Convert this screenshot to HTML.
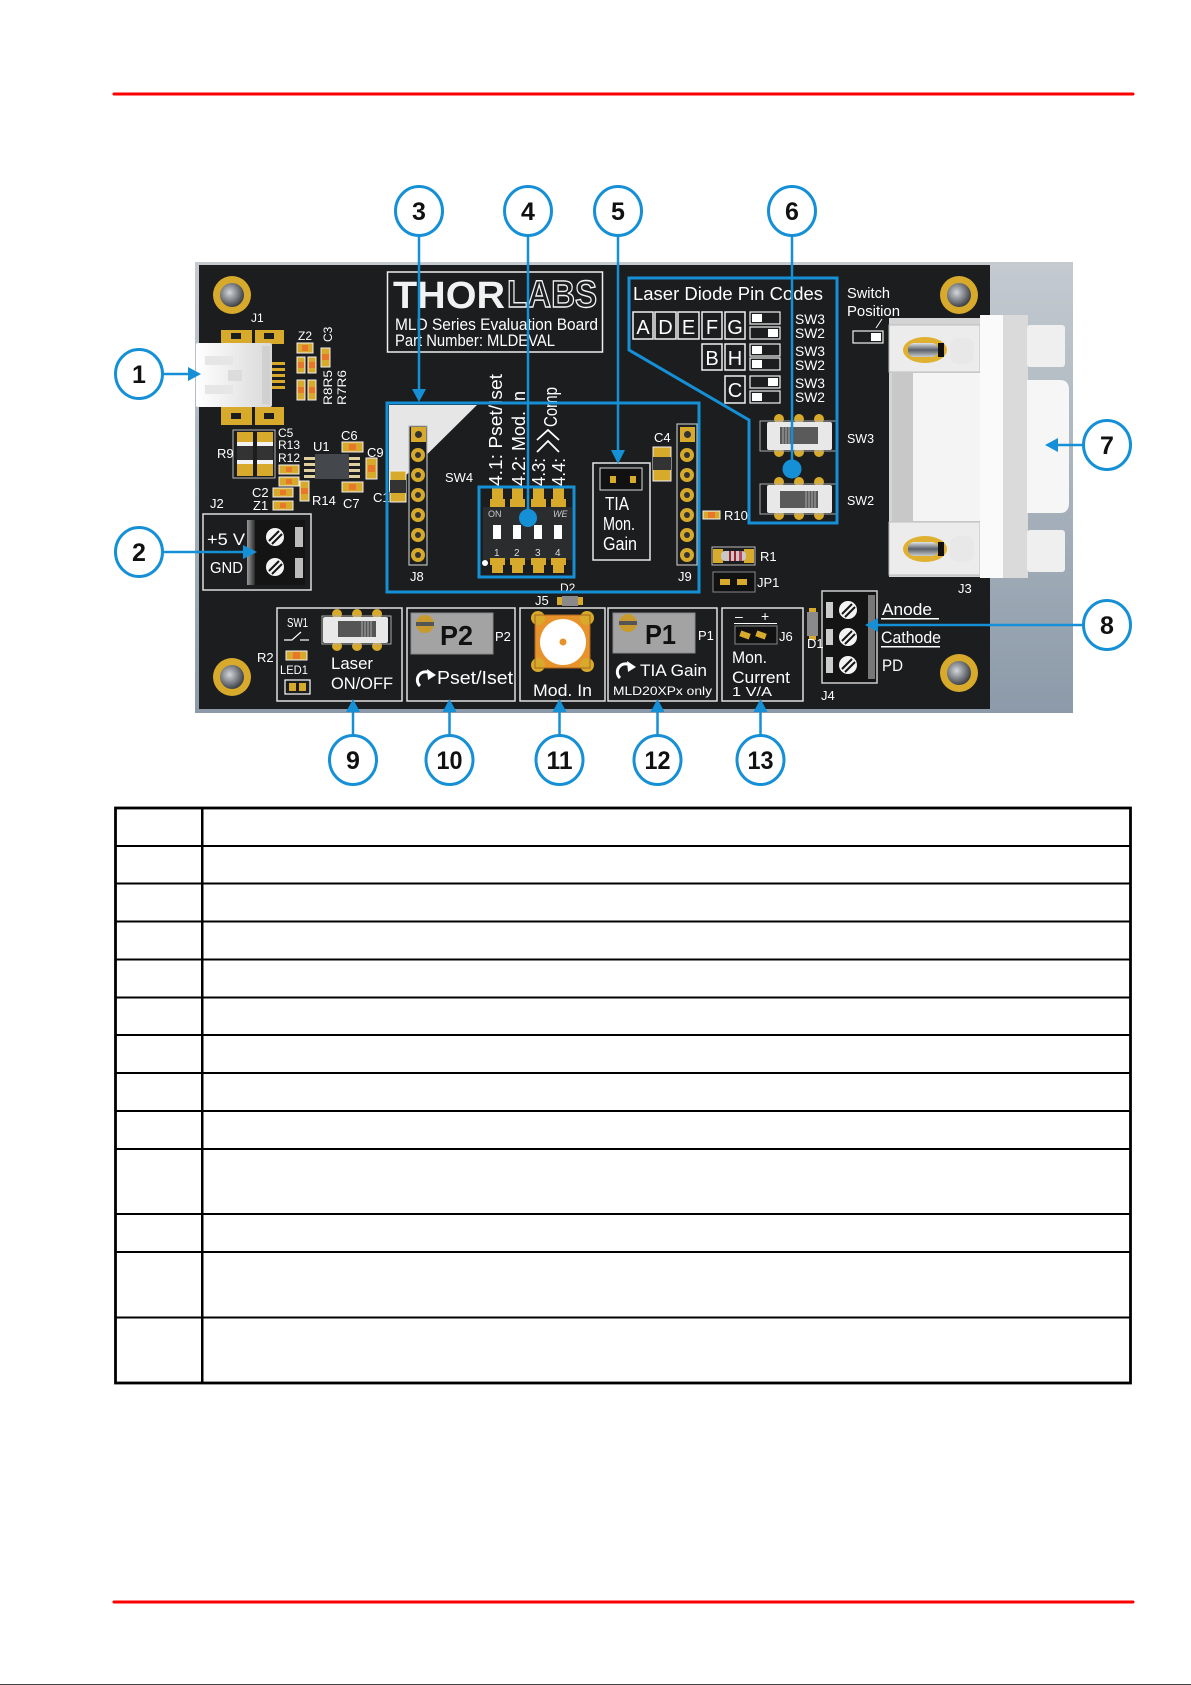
<!DOCTYPE html>
<html><head><meta charset="utf-8">
<style>
html,body{margin:0;padding:0;background:#fff;}
body{width:1191px;height:1685px;position:relative;overflow:hidden;}
svg{position:absolute;left:0;top:0;}
</style></head><body>
<svg width="1191" height="1685" viewBox="0 0 1191 1685" xmlns="http://www.w3.org/2000/svg" font-family="'Liberation Sans', 'DejaVu Sans', sans-serif">
<defs>
 <linearGradient id="gframe" x1="0" y1="0" x2="0" y2="1"><stop offset="0" stop-color="#c4cad0"/><stop offset="1" stop-color="#8c9aa9"/></linearGradient>
 <radialGradient id="hole" cx="0.4" cy="0.4" r="0.65"><stop offset="0" stop-color="#d4d8dc"/><stop offset="1" stop-color="#34383e"/></radialGradient>
 <linearGradient id="usbg" x1="0" y1="0" x2="1" y2="0"><stop offset="0" stop-color="#ffffff"/><stop offset="1" stop-color="#d8d8d8"/></linearGradient>
 <linearGradient id="scr" x1="0" y1="0" x2="0" y2="1"><stop offset="0" stop-color="#e0e4e8"/><stop offset="0.5" stop-color="#5a6068"/><stop offset="1" stop-color="#c8ccd0"/></linearGradient>
 <linearGradient id="shade" x1="0" y1="0" x2="1" y2="0"><stop offset="0" stop-color="#9a9a9a"/><stop offset="1" stop-color="#2a2a2a"/></linearGradient>
</defs>

<!-- header / footer red lines -->
<line x1="114" y1="94" x2="1133" y2="94" stroke="#ff0000" stroke-width="3" stroke-linecap="round"/>
<line x1="114" y1="1602" x2="1133" y2="1602" stroke="#ff0000" stroke-width="3" stroke-linecap="round"/>
<rect x="0" y="1684" width="1191" height="1" fill="#444"/>

<!-- board -->
<rect x="195" y="262" width="878" height="451" fill="url(#gframe)"/>
<rect x="199" y="265" width="791" height="444" fill="#1c1d1f"/>

<!-- mounting holes -->
<g>
 <circle cx="232" cy="295" r="19" fill="#d8aa2c"/><circle cx="232" cy="295" r="12" fill="url(#hole)"/>
 <circle cx="959" cy="295" r="19" fill="#d8aa2c"/><circle cx="959" cy="295" r="12" fill="url(#hole)"/>
 <circle cx="232" cy="677" r="19" fill="#d8aa2c"/><circle cx="232" cy="677" r="12" fill="url(#hole)"/>
 <circle cx="959" cy="673" r="19" fill="#d8aa2c"/><circle cx="959" cy="673" r="12" fill="url(#hole)"/>
</g>

<g fill="#ffffff" font-size="12">
 <!-- J1 USB -->
 <text x="251" y="322">J1</text>
 <rect x="221" y="330" width="31" height="14" fill="#d8aa2c"/>
 <rect x="255" y="330" width="29" height="14" fill="#d8aa2c"/>
 <rect x="221" y="407" width="31" height="18" fill="#d8aa2c"/>
 <rect x="255" y="407" width="29" height="18" fill="#d8aa2c"/>
 <rect x="231" y="333" width="10" height="6" fill="#1c1d1f"/>
 <rect x="264" y="333" width="10" height="6" fill="#1c1d1f"/>
 <rect x="231" y="413" width="10" height="6" fill="#1c1d1f"/>
 <rect x="264" y="413" width="10" height="6" fill="#1c1d1f"/>
 <rect x="271" y="362" width="14" height="3" fill="#d8aa2c"/>
 <rect x="271" y="368" width="14" height="3" fill="#d8aa2c"/>
 <rect x="271" y="374" width="14" height="3" fill="#d8aa2c"/>
 <rect x="271" y="380" width="14" height="3" fill="#d8aa2c"/>
 <rect x="271" y="386" width="14" height="3" fill="#d8aa2c"/>
 <rect x="196" y="343" width="76" height="64" rx="2" fill="url(#usbg)"/>
 <rect x="262" y="346" width="8" height="58" fill="#d0d0d0"/>
 <rect x="205" y="356" width="28" height="9" fill="#e6e6e6"/>
 <rect x="228" y="370" width="14" height="11" fill="#dcdcdc"/>
 <rect x="205" y="385" width="28" height="9" fill="#e6e6e6"/>

 <!-- small SMDs -->
 <g stroke="#f0f0f0" stroke-width="1">
  <rect x="297" y="343" width="16" height="10" fill="#d8aa2c"/>
  <rect x="297" y="357" width="8" height="16" fill="#d8aa2c"/>
  <rect x="308" y="357" width="8" height="16" fill="#d8aa2c"/>
  <rect x="297" y="380" width="8" height="20" fill="#d8aa2c"/>
  <rect x="308" y="380" width="8" height="20" fill="#d8aa2c"/>
  <rect x="321" y="348" width="9" height="19" fill="#d8aa2c"/>
  <rect x="342" y="442" width="21" height="10" fill="#d8aa2c"/>
  <rect x="366" y="458" width="11" height="21" fill="#d8aa2c"/>
  <rect x="342" y="482" width="21" height="10" fill="#d8aa2c"/>
  <rect x="279" y="465" width="20" height="9" fill="#d8aa2c"/>
  <rect x="279" y="477" width="20" height="9" fill="#d8aa2c"/>
  <rect x="273" y="488" width="20" height="9" fill="#d8aa2c"/>
  <rect x="273" y="501" width="20" height="9" fill="#d8aa2c"/>
  <rect x="300" y="481" width="9" height="20" fill="#d8aa2c"/>
  <rect x="286" y="651" width="21" height="9" fill="#d8aa2c"/>
  <rect x="703" y="511" width="17" height="8" fill="#d8aa2c"/>
 </g>
 <g fill="#e8772a">
  <rect x="302" y="345" width="6" height="6"/>
  <rect x="298" y="362" width="6" height="6"/><rect x="309" y="362" width="6" height="6"/>
  <rect x="298" y="387" width="6" height="6"/><rect x="309" y="387" width="6" height="6"/>
  <rect x="322" y="354" width="7" height="6"/>
  <rect x="349" y="444" width="7" height="6"/>
  <rect x="368" y="465" width="7" height="7"/>
  <rect x="349" y="484" width="7" height="6"/>
  <rect x="286" y="467" width="6" height="5"/><rect x="286" y="479" width="6" height="5"/>
  <rect x="280" y="490" width="6" height="5"/><rect x="280" y="503" width="6" height="5"/>
  <rect x="301" y="488" width="7" height="6"/>
  <rect x="293" y="652" width="7" height="7"/>
  <rect x="708" y="512" width="7" height="6"/>
 </g>
 <text x="298" y="340">Z2</text>
 <text transform="translate(332,342) rotate(-90)">C3</text>
 <text transform="translate(332,405) rotate(-90)" textLength="35" lengthAdjust="spacingAndGlyphs">R8R5</text>
 <text transform="translate(346,405) rotate(-90)" textLength="35" lengthAdjust="spacingAndGlyphs">R7R6</text>

 <!-- R9 / C5 -->
 <rect x="233" y="430" width="42" height="48" fill="none" stroke="#bbbbbb" stroke-width="1"/>
 <rect x="237" y="432" width="16" height="44" fill="#d8aa2c"/>
 <rect x="237" y="442" width="16" height="22" fill="#f2f2f2"/>
 <rect x="237" y="446" width="16" height="14" fill="#333"/>
 <rect x="257" y="432" width="16" height="44" fill="#d8aa2c"/>
 <rect x="257" y="442" width="16" height="22" fill="#f2f2f2"/>
 <rect x="257" y="446" width="16" height="14" fill="#333"/>

 <!-- U1 -->
 <g fill="#e0d0a0">
  <rect x="304" y="457" width="11" height="3"/><rect x="304" y="463" width="11" height="3"/><rect x="304" y="469" width="11" height="3"/><rect x="304" y="475" width="11" height="3"/>
  <rect x="349" y="457" width="11" height="3"/><rect x="349" y="463" width="11" height="3"/><rect x="349" y="469" width="11" height="3"/><rect x="349" y="475" width="11" height="3"/>
 </g>
 <rect x="315" y="454" width="34" height="25" fill="#44474b"/>

 <text x="278" y="437">C5</text>
 <text x="278" y="449">R13</text>
 <text x="278" y="462">R12</text>
 <text x="313" y="451" font-size="13">U1</text>
 <text x="341" y="440" font-size="13">C6</text>
 <text x="367" y="457" font-size="13">C9</text>
 <text x="217" y="458" font-size="13">R9</text>
 <text x="252" y="497" font-size="13">C2</text>
 <text x="253" y="510" font-size="13">Z1</text>
 <text x="312" y="505" font-size="13">R14</text>
 <text x="343" y="508" font-size="13">C7</text>
 <text x="373" y="502" font-size="13">C1</text>
 <text x="210" y="508" font-size="13">J2</text>

 <!-- J2 -->
 <rect x="203" y="514" width="108" height="76" fill="none" stroke="#dddddd" stroke-width="1.5"/>
 <rect x="247" y="520" width="58" height="65" fill="#141414"/>
 <rect x="247" y="520" width="8" height="65" fill="url(#shade)"/>
 <rect x="295" y="527" width="8" height="20" fill="#bbbbbb"/>
 <rect x="295" y="558" width="8" height="20" fill="#bbbbbb"/>
 <circle cx="275" cy="537" r="9" fill="#f4f4f4"/>
 <circle cx="275" cy="567" r="9" fill="#f4f4f4"/>
 <g stroke="#141414" stroke-width="2"><line x1="269" y1="541" x2="279" y2="531"/><line x1="272" y1="544" x2="282" y2="534"/><line x1="269" y1="571" x2="279" y2="561"/><line x1="272" y1="574" x2="282" y2="564"/></g>
 <text x="207" y="545" font-size="17" textLength="38" lengthAdjust="spacingAndGlyphs">+5 V</text>
 <text x="210" y="573" font-size="16" textLength="33" lengthAdjust="spacingAndGlyphs">GND</text>

 <!-- Thorlabs -->
 <rect x="387.5" y="272" width="215" height="80" fill="none" stroke="#eeeeee" stroke-width="1.5"/>
 <text x="393" y="308" font-size="38" font-weight="bold" fill="#f2f2f2" textLength="112" lengthAdjust="spacingAndGlyphs">THOR</text>
 <text x="507" y="307" font-size="38" font-weight="bold" fill="none" stroke="#f2f2f2" stroke-width="1.4" textLength="90" lengthAdjust="spacingAndGlyphs">LABS</text>
 <text x="395" y="330" font-size="17" textLength="203" lengthAdjust="spacingAndGlyphs">MLD Series Evaluation Board</text>
 <text x="395" y="346" font-size="17" textLength="160" lengthAdjust="spacingAndGlyphs">Part Number: MLDEVAL</text>

 <!-- white triangle + J8 -->
 <polygon points="389,405 477,405 389,492" fill="#e6e6e6"/>
 <rect x="390" y="471" width="16" height="31" fill="#d8aa2c" stroke="#f0f0f0"/>
 <rect x="390" y="480" width="16" height="13" fill="#333"/>
 <rect x="409" y="426" width="18" height="139" fill="#1c1d1f" stroke="#bbbbbb" stroke-width="1.2"/>
 <rect x="411" y="427" width="15" height="15" fill="#d8aa2c"/><circle cx="418.5" cy="434.5" r="3.5" fill="#333"/>
 <g fill="#d8aa2c"><circle cx="418" cy="455" r="7"/><circle cx="418" cy="475" r="7"/><circle cx="418" cy="495" r="7"/><circle cx="418" cy="515" r="7"/><circle cx="418" cy="535" r="7"/><circle cx="418" cy="555" r="7"/></g>
 <g fill="#333"><circle cx="418" cy="455" r="3"/><circle cx="418" cy="475" r="3"/><circle cx="418" cy="495" r="3"/><circle cx="418" cy="515" r="3"/><circle cx="418" cy="535" r="3"/><circle cx="418" cy="555" r="3"/></g>
 <text x="410" y="581" font-size="13">J8</text>
 <text x="445" y="482" font-size="13" textLength="28" lengthAdjust="spacingAndGlyphs">SW4</text>

 <!-- vertical SW4 labels -->
 <text transform="translate(502,486) rotate(-90)" font-size="18" textLength="112" lengthAdjust="spacingAndGlyphs">4.1: Pset/Iset</text>
 <text transform="translate(525,486) rotate(-90)" font-size="18" textLength="95" lengthAdjust="spacingAndGlyphs">4.2: Mod. In</text>
 <text transform="translate(545,486) rotate(-90)" font-size="18" textLength="28" lengthAdjust="spacingAndGlyphs">4.3:</text>
 <text transform="translate(565,486) rotate(-90)" font-size="18" textLength="28" lengthAdjust="spacingAndGlyphs">4.4:</text>
 <polyline points="537,452 548,441 559,452" fill="none" stroke="#fff" stroke-width="1.8"/>
 <polyline points="537,440 548,430 559,440" fill="none" stroke="#fff" stroke-width="1.8"/>
 <text transform="translate(557,427) rotate(-90)" font-size="18" textLength="40" lengthAdjust="spacingAndGlyphs">Comp</text>

 <!-- SW4 DIP -->
 <rect x="483" y="507" width="89" height="53" fill="#2b2c2e"/>
 <g fill="#d8aa2c">
  <rect x="492" y="488" width="11" height="19"/><rect x="512" y="488" width="11" height="19"/><rect x="533" y="488" width="11" height="19"/><rect x="553" y="488" width="11" height="19"/>
  <rect x="490" y="499" width="15" height="8"/><rect x="510" y="499" width="15" height="8"/><rect x="531" y="499" width="15" height="8"/><rect x="551" y="499" width="15" height="8"/>
  <rect x="492" y="558" width="11" height="15"/><rect x="512" y="558" width="11" height="15"/><rect x="533" y="558" width="11" height="15"/><rect x="553" y="558" width="11" height="15"/>
  <rect x="490" y="558" width="15" height="7"/><rect x="510" y="558" width="15" height="7"/><rect x="531" y="558" width="15" height="7"/><rect x="551" y="558" width="15" height="7"/>
 </g>
 <g fill="#ffffff"><rect x="493" y="525" width="8" height="14"/><rect x="513" y="525" width="8" height="14"/><rect x="534" y="525" width="8" height="14"/><rect x="554" y="525" width="8" height="14"/></g>
 <text x="488" y="517" font-size="9" fill="#cccccc">ON</text>
 <text x="553" y="517" font-size="9" font-style="italic" fill="#cccccc">WE</text>
 <g font-size="10" fill="#dddddd"><text x="494" y="556">1</text><text x="514" y="556">2</text><text x="535" y="556">3</text><text x="555" y="556">4</text></g>
 <circle cx="485" cy="563" r="3" fill="#fff"/>

 <!-- TIA Mon. Gain -->
 <rect x="593" y="463" width="57" height="97" fill="none" stroke="#e6e6e6" stroke-width="1.5"/>
 <rect x="600" y="468" width="42" height="22" fill="#111" stroke="#dddddd" stroke-width="1"/>
 <rect x="610" y="476" width="6" height="7" fill="#d8aa2c"/><rect x="630" y="476" width="6" height="7" fill="#d8aa2c"/>
 <text x="605" y="510" font-size="18" textLength="24" lengthAdjust="spacingAndGlyphs">TIA</text>
 <text x="603" y="530" font-size="18" textLength="32" lengthAdjust="spacingAndGlyphs">Mon.</text>
 <text x="603" y="550" font-size="18" textLength="34" lengthAdjust="spacingAndGlyphs">Gain</text>

 <!-- C4, J9 -->
 <text x="654" y="442" font-size="13">C4</text>
 <rect x="653" y="447" width="18" height="34" fill="#d8aa2c" stroke="#f0f0f0"/>
 <rect x="653" y="457" width="18" height="13" fill="#333"/>
 <rect x="677" y="424" width="20" height="141" fill="#1c1d1f" stroke="#bbbbbb" stroke-width="1.2"/>
 <rect x="680" y="427" width="15" height="15" fill="#d8aa2c"/><circle cx="687.5" cy="434.5" r="3.5" fill="#333"/>
 <g fill="#d8aa2c"><circle cx="687" cy="455" r="7"/><circle cx="687" cy="475" r="7"/><circle cx="687" cy="495" r="7"/><circle cx="687" cy="515" r="7"/><circle cx="687" cy="535" r="7"/><circle cx="687" cy="555" r="7"/></g>
 <g fill="#333"><circle cx="687" cy="455" r="3"/><circle cx="687" cy="475" r="3"/><circle cx="687" cy="495" r="3"/><circle cx="687" cy="515" r="3"/><circle cx="687" cy="535" r="3"/><circle cx="687" cy="555" r="3"/></g>
 <text x="678" y="581" font-size="13">J9</text>
 <text x="724" y="520" font-size="13">R10</text>

 <!-- R1, JP1 -->
 <rect x="712" y="547" width="43" height="18" fill="none" stroke="#bbb" stroke-width="1"/>
 <rect x="713" y="549" width="10" height="14" fill="#d8aa2c"/><rect x="744" y="549" width="10" height="14" fill="#d8aa2c"/>
 <rect x="721" y="551" width="25" height="10" rx="4" fill="#c8c8c8"/>
 <rect x="729" y="551" width="2" height="10" fill="#a02030"/><rect x="734" y="551" width="2" height="10" fill="#a02030"/><rect x="739" y="551" width="3" height="10" fill="#c04060"/>
 <text x="760" y="561" font-size="13">R1</text>
 <rect x="713" y="572" width="42" height="20" fill="#111" stroke="#888" stroke-width="1"/>
 <rect x="720" y="579" width="10" height="6" fill="#d8aa2c"/><rect x="737" y="579" width="10" height="6" fill="#d8aa2c"/>
 <text x="757" y="587" font-size="13">JP1</text>

 <!-- Laser Diode Pin Codes -->
 <text x="633" y="300" font-size="18" textLength="190" lengthAdjust="spacingAndGlyphs">Laser Diode Pin Codes</text>
 <g fill="none" stroke="#f0f0f0" stroke-width="1.5">
  <rect x="633" y="312" width="20" height="27"/><rect x="655" y="312" width="21" height="27"/><rect x="678" y="312" width="21" height="27"/><rect x="702" y="312" width="20" height="27"/><rect x="725" y="312" width="20" height="27"/>
  <rect x="702" y="344" width="20" height="26"/><rect x="725" y="344" width="20" height="26"/>
  <rect x="725" y="376" width="20" height="27"/>
 </g>
 <g font-size="20" text-anchor="middle">
  <text x="643" y="334">A</text><text x="665.5" y="334">D</text><text x="688.5" y="334">E</text><text x="712" y="334">F</text><text x="735" y="334">G</text>
  <text x="712" y="365">B</text><text x="735" y="365">H</text>
  <text x="735" y="397">C</text>
 </g>
 <g fill="none" stroke="#f0f0f0" stroke-width="1.2">
  <rect x="750" y="312" width="30" height="12"/><rect x="750" y="327" width="30" height="12"/>
  <rect x="750" y="344" width="30" height="12"/><rect x="750" y="358" width="30" height="12"/>
  <rect x="750" y="376" width="30" height="12"/><rect x="750" y="391" width="30" height="12"/>
  <rect x="853" y="331" width="30" height="12"/>
 </g>
 <g fill="#ffffff">
  <rect x="752" y="314" width="10" height="8"/><rect x="768" y="329" width="10" height="8"/>
  <rect x="752" y="346" width="10" height="8"/><rect x="752" y="360" width="10" height="8"/>
  <rect x="768" y="378" width="10" height="8"/><rect x="752" y="393" width="10" height="8"/>
  <rect x="871" y="333" width="10" height="8"/>
 </g>
 <g font-size="14">
  <text x="795" y="324" textLength="30" lengthAdjust="spacingAndGlyphs">SW3</text>
  <text x="795" y="338" textLength="30" lengthAdjust="spacingAndGlyphs">SW2</text>
  <text x="795" y="356" textLength="30" lengthAdjust="spacingAndGlyphs">SW3</text>
  <text x="795" y="370" textLength="30" lengthAdjust="spacingAndGlyphs">SW2</text>
  <text x="795" y="388" textLength="30" lengthAdjust="spacingAndGlyphs">SW3</text>
  <text x="795" y="402" textLength="30" lengthAdjust="spacingAndGlyphs">SW2</text>
 </g>
 <text x="847" y="298" font-size="15" textLength="43" lengthAdjust="spacingAndGlyphs">Switch</text>
 <text x="847" y="316" font-size="15" textLength="53" lengthAdjust="spacingAndGlyphs">Position</text>
 <line x1="882" y1="319" x2="876" y2="328" stroke="#fff" stroke-width="1"/>

 <!-- SW3 / SW2 slide switches -->
 <g fill="#d8aa2c">
  <circle cx="779" cy="419" r="5"/><circle cx="799" cy="419" r="5"/><circle cx="819" cy="419" r="5"/>
  <circle cx="779" cy="452" r="5"/><circle cx="799" cy="452" r="5"/><circle cx="819" cy="452" r="5"/>
  <circle cx="779" cy="482" r="5"/><circle cx="799" cy="482" r="5"/><circle cx="819" cy="482" r="5"/>
  <circle cx="779" cy="515" r="5"/><circle cx="799" cy="515" r="5"/><circle cx="819" cy="515" r="5"/>
 </g>
 <rect x="760" y="421" width="78" height="30" fill="none" stroke="#aaa" stroke-width="1"/>
 <rect x="760" y="484" width="78" height="30" fill="none" stroke="#aaa" stroke-width="1"/>
 <rect x="767" y="422" width="65" height="28" rx="2" fill="#e8e8e8"/>
 <rect x="780" y="427" width="38" height="17" fill="#5a5a5a"/>
 <g stroke="#aaa" stroke-width="1"><line x1="783" y1="427" x2="783" y2="444"/><line x1="786" y1="427" x2="786" y2="444"/><line x1="789" y1="427" x2="789" y2="444"/><line x1="792" y1="427" x2="792" y2="444"/></g>
 <rect x="767" y="485" width="65" height="28" rx="2" fill="#e8e8e8"/>
 <rect x="780" y="491" width="38" height="17" fill="#5a5a5a"/>
 <g stroke="#aaa" stroke-width="1"><line x1="806" y1="491" x2="806" y2="508"/><line x1="809" y1="491" x2="809" y2="508"/><line x1="812" y1="491" x2="812" y2="508"/><line x1="815" y1="491" x2="815" y2="508"/></g>
 <text x="847" y="443" font-size="13" textLength="27" lengthAdjust="spacingAndGlyphs">SW3</text>
 <text x="847" y="505" font-size="13" textLength="27" lengthAdjust="spacingAndGlyphs">SW2</text>

 <!-- DB9 J3 -->
 <rect x="889" y="318" width="91" height="259" fill="#d4d4d4"/>
 <rect x="889" y="325" width="91" height="47" fill="#ececec" stroke="#bbb" stroke-width="1"/>
 <rect x="889" y="522" width="91" height="53" fill="#ececec" stroke="#bbb" stroke-width="1"/>
 <rect x="892" y="373" width="88" height="148" fill="#f4f4f4"/>
 <rect x="892" y="373" width="21" height="148" fill="#c8c8c8"/>
 <rect x="980" y="315" width="23" height="263" fill="#fafafa"/>
 <rect x="1003" y="315" width="25" height="263" fill="#dadada"/>
 <rect x="1027" y="325" width="38" height="42" rx="3" fill="#efefef"/>
 <rect x="1027" y="530" width="38" height="42" rx="3" fill="#efefef"/>
 <path d="M1027,380 L1060,380 Q1069,380 1069,390 L1069,503 Q1069,513 1060,513 L1027,513 Z" fill="#f6f6f6"/>
 <ellipse cx="925" cy="350" rx="22" ry="13" fill="#e0b030"/>
 <rect x="908" y="343" width="30" height="14" rx="6" fill="url(#scr)"/>
 <rect x="938" y="343" width="6" height="14" fill="#111"/>
 <rect x="950" y="338" width="24" height="26" rx="8" fill="#e8e8e8"/>
 <ellipse cx="925" cy="549" rx="22" ry="13" fill="#e0b030"/>
 <rect x="908" y="542" width="30" height="14" rx="6" fill="url(#scr)"/>
 <rect x="938" y="542" width="6" height="14" fill="#111"/>
 <rect x="950" y="536" width="24" height="26" rx="8" fill="#e8e8e8"/>
 <text x="958" y="593" font-size="13">J3</text>

 <!-- J4 -->
 <rect x="822" y="591" width="55" height="92" fill="#141414" stroke="#cccccc" stroke-width="1.5"/>
 <rect x="826" y="602" width="7" height="16" fill="#cccccc"/><rect x="826" y="629" width="7" height="16" fill="#cccccc"/><rect x="826" y="657" width="7" height="16" fill="#cccccc"/>
 <rect x="868" y="595" width="7" height="84" fill="#777"/>
 <circle cx="848" cy="610" r="9" fill="#f4f4f4"/><circle cx="848" cy="637" r="9" fill="#f4f4f4"/><circle cx="848" cy="665" r="9" fill="#f4f4f4"/>
 <g stroke="#141414" stroke-width="2">
  <line x1="842" y1="614" x2="852" y2="604"/><line x1="845" y1="617" x2="855" y2="607"/>
  <line x1="842" y1="641" x2="852" y2="631"/><line x1="845" y1="644" x2="855" y2="634"/>
  <line x1="842" y1="669" x2="852" y2="659"/><line x1="845" y1="672" x2="855" y2="662"/>
 </g>
 <text x="821" y="700" font-size="13">J4</text>
 <rect x="807" y="612" width="11" height="24" fill="#8a8a8a"/>
 <rect x="809" y="608" width="7" height="4" fill="#d8aa2c"/><rect x="809" y="636" width="7" height="4" fill="#d8aa2c"/>
 <text x="807" y="648" font-size="13">D1</text>
 <text x="882" y="615" font-size="17" textLength="50" lengthAdjust="spacingAndGlyphs">Anode</text>
 <rect x="881" y="618" width="58" height="1.5" fill="#fff"/>
 <text x="881" y="643" font-size="17" textLength="60" lengthAdjust="spacingAndGlyphs">Cathode</text>
 <rect x="881" y="646" width="59" height="1.5" fill="#fff"/>
 <text x="882" y="671" font-size="17" textLength="21" lengthAdjust="spacingAndGlyphs">PD</text>

 <!-- bottom boxes -->
 <g fill="none" stroke="#e0e0e0" stroke-width="1.5">
  <rect x="277" y="608" width="125" height="93"/>
  <rect x="407" y="608" width="108" height="93"/>
  <rect x="520" y="608" width="85" height="93"/>
  <rect x="608" y="608" width="109" height="93"/>
  <rect x="722" y="608" width="81" height="93"/>
 </g>
 <!-- box 9 -->
 <text x="287" y="627" font-size="13" textLength="21" lengthAdjust="spacingAndGlyphs">SW1</text>
 <polyline points="284,640 292,640 301,632" fill="none" stroke="#fff" stroke-width="1.2"/>
 <line x1="300" y1="640" x2="309" y2="640" stroke="#fff" stroke-width="1.2"/>
 <g fill="#d8aa2c"><circle cx="337" cy="614" r="5"/><circle cx="357" cy="614" r="5"/><circle cx="377" cy="614" r="5"/><circle cx="337" cy="646" r="5"/><circle cx="357" cy="646" r="5"/><circle cx="377" cy="646" r="5"/></g>
 <rect x="322" y="616" width="69" height="28" fill="none" stroke="#aaa" stroke-width="1"/>
 <rect x="323" y="617" width="65" height="26" rx="2" fill="#e8e8e8"/>
 <rect x="338" y="621" width="38" height="16" fill="#555"/>
 <g stroke="#aaa" stroke-width="1"><line x1="362" y1="621" x2="362" y2="637"/><line x1="365" y1="621" x2="365" y2="637"/><line x1="368" y1="621" x2="368" y2="637"/><line x1="371" y1="621" x2="371" y2="637"/></g>
 <text x="257" y="662" font-size="13">R2</text>
 <text x="280" y="674" font-size="12" textLength="28" lengthAdjust="spacingAndGlyphs">LED1</text>
 <rect x="285" y="680" width="25" height="14" fill="none" stroke="#fff" stroke-width="1.2"/>
 <rect x="289" y="683" width="7" height="8" fill="#d8aa2c"/><rect x="299" y="683" width="7" height="8" fill="#d8aa2c"/>
 <text x="331" y="669" font-size="17" textLength="42" lengthAdjust="spacingAndGlyphs">Laser</text>
 <text x="331" y="689" font-size="17" textLength="62" lengthAdjust="spacingAndGlyphs">ON/OFF</text>
 <!-- box 10 -->
 <rect x="411" y="613" width="82" height="41" fill="#a3a3a3" stroke="#888" stroke-width="1"/>
 <circle cx="425" cy="624" r="9" fill="#c89a2e"/>
 <rect x="416" y="622" width="18" height="4" fill="#555"/>
 <text x="440" y="645" font-size="28" font-weight="bold" fill="#111" textLength="33" lengthAdjust="spacingAndGlyphs">P2</text>
 <text x="495" y="641" font-size="13">P2</text>
 <path d="M420,686 A8,8 0 1 1 431,674" fill="none" stroke="#fff" stroke-width="3"/>
 <polygon points="427,669 436,675 428,680" fill="#fff"/>
 <text x="437" y="684" font-size="18" textLength="76" lengthAdjust="spacingAndGlyphs">Pset/Iset</text>
 <!-- box 11 -->
 <text x="560" y="592" font-size="12">D2</text>
 <rect x="557" y="597" width="26" height="8" fill="#d8aa2c"/>
 <rect x="562" y="596" width="16" height="10" fill="#8a8a8a"/>
 <text x="535" y="605" font-size="13">J5</text>
 <rect x="535" y="615" width="55" height="53" fill="#e8922c" stroke="#a8641c" stroke-width="1"/>
 <g fill="#d8aa2c"><circle cx="538" cy="618" r="7"/><circle cx="587" cy="618" r="7"/><circle cx="538" cy="665" r="7"/><circle cx="587" cy="665" r="7"/></g>
 <rect x="535" y="615" width="55" height="53" fill="none" stroke="#a8641c" stroke-width="1"/>
 <circle cx="563" cy="642" r="23" fill="#ffffff"/>
 <circle cx="563" cy="642" r="3.5" fill="#e8922c"/>
 <text x="533" y="696" font-size="17" textLength="59" lengthAdjust="spacingAndGlyphs">Mod. In</text>
 <!-- box 12 -->
 <rect x="613" y="613" width="82" height="40" fill="#a3a3a3" stroke="#888" stroke-width="1"/>
 <circle cx="628" cy="623" r="9" fill="#c89a2e"/>
 <rect x="619" y="621" width="18" height="4" fill="#555"/>
 <text x="645" y="644" font-size="28" font-weight="bold" fill="#111" textLength="31" lengthAdjust="spacingAndGlyphs">P1</text>
 <text x="698" y="640" font-size="13">P1</text>
 <path d="M620,678 A8,8 0 1 1 631,666" fill="none" stroke="#fff" stroke-width="3"/>
 <polygon points="627,661 636,667 628,672" fill="#fff"/>
 <text x="640" y="676" font-size="17" textLength="67" lengthAdjust="spacingAndGlyphs">TIA  Gain</text>
 <text x="613" y="695" font-size="12" textLength="99" lengthAdjust="spacingAndGlyphs">MLD20XPx  only</text>
 <!-- box 13 -->
 <text x="735" y="621" font-size="14">–</text>
 <text x="761" y="621" font-size="14">+</text>
 <line x1="734" y1="623.5" x2="777" y2="623.5" stroke="#fff" stroke-width="1"/>
 <rect x="735" y="626" width="42" height="18" fill="#111" stroke="#888" stroke-width="1"/>
 <rect x="740" y="632" width="10" height="6" fill="#d8aa2c" transform="rotate(20 745 635)"/>
 <rect x="756" y="632" width="10" height="6" fill="#d8aa2c" transform="rotate(20 761 635)"/>
 <text x="779" y="641" font-size="13">J6</text>
 <text x="732" y="663" font-size="17" textLength="35" lengthAdjust="spacingAndGlyphs">Mon.</text>
 <text x="732" y="683" font-size="17" textLength="58" lengthAdjust="spacingAndGlyphs">Current</text>
 <text x="732" y="696" font-size="13" textLength="40" lengthAdjust="spacingAndGlyphs">1  V/A</text>
</g>

<!-- blue callout structure -->
<g fill="none" stroke="#1590d6" stroke-width="3">
 <rect x="387" y="403" width="312" height="189"/>
 <rect x="479" y="487" width="95" height="90"/>
 <polygon points="629,278 837,278 837,523 749,523 749,420 629,350"/>
</g>
<g stroke="#1590d6" stroke-width="2.5" fill="none">
 <line x1="163" y1="374" x2="192" y2="374"/>
 <line x1="163" y1="552" x2="247" y2="552"/>
 <line x1="419" y1="236" x2="419" y2="392"/>
 <line x1="528" y1="236" x2="528" y2="518"/>
 <line x1="618" y1="236" x2="618" y2="453"/>
 <line x1="792" y1="236" x2="792" y2="469"/>
 <line x1="1083" y1="445" x2="1055" y2="445"/>
 <line x1="1083" y1="625" x2="875" y2="625"/>
 <line x1="353" y1="736" x2="353" y2="709"/>
 <line x1="449.5" y1="736" x2="449.5" y2="709"/>
 <line x1="559.5" y1="736" x2="559.5" y2="709"/>
 <line x1="657.5" y1="736" x2="657.5" y2="709"/>
 <line x1="760.5" y1="736" x2="760.5" y2="709"/>
</g>
<g fill="#1590d6">
 <polygon points="188,367 188,381 201,374"/>
 <polygon points="243,545 243,559 257,552"/>
 <polygon points="412,389 426,389 419,402"/>
 <polygon points="611,450 625,450 618,464"/>
 <circle cx="528" cy="518" r="9"/>
 <circle cx="792" cy="469" r="9.5"/>
 <polygon points="1058,438 1058,452 1045,445"/>
 <polygon points="878,618 878,632 865,625"/>
 <polygon points="346,712 360,712 353,699"/>
 <polygon points="442.5,712 456.5,712 449.5,699"/>
 <polygon points="552.5,712 566.5,712 559.5,699"/>
 <polygon points="650.5,712 664.5,712 657.5,699"/>
 <polygon points="753.5,712 767.5,712 760.5,699"/>
</g>

<!-- callout circles -->
<g stroke="#1590d6" stroke-width="3" fill="#ffffff">
 <ellipse cx="139" cy="374" rx="23.5" ry="24.5"/>
 <ellipse cx="139" cy="552" rx="23.5" ry="24.5"/>
 <ellipse cx="419" cy="211" rx="23.5" ry="24.5"/>
 <ellipse cx="528" cy="211" rx="23.5" ry="24.5"/>
 <ellipse cx="618" cy="211" rx="23.5" ry="24.5"/>
 <ellipse cx="792" cy="211" rx="23.5" ry="24.5"/>
 <ellipse cx="1107" cy="445" rx="23.5" ry="24.5"/>
 <ellipse cx="1107" cy="625" rx="23.5" ry="24.5"/>
 <ellipse cx="353" cy="760" rx="23.5" ry="24.5"/>
 <ellipse cx="449.5" cy="760" rx="23.5" ry="24.5"/>
 <ellipse cx="559.5" cy="760" rx="23.5" ry="24.5"/>
 <ellipse cx="657.5" cy="760" rx="23.5" ry="24.5"/>
 <ellipse cx="760.5" cy="760" rx="23.5" ry="24.5"/>
</g>
<g font-size="25" font-weight="bold" fill="#111" text-anchor="middle">
 <text x="139" y="383">1</text>
 <text x="139" y="561">2</text>
 <text x="419" y="220">3</text>
 <text x="528" y="220">4</text>
 <text x="618" y="220">5</text>
 <text x="792" y="220">6</text>
 <text x="1107" y="454">7</text>
 <text x="1107" y="634">8</text>
 <text x="353" y="769">9</text>
 <text x="449.5" y="769" textLength="26" lengthAdjust="spacingAndGlyphs">10</text>
 <text x="559.5" y="769" textLength="26" lengthAdjust="spacingAndGlyphs">11</text>
 <text x="657.5" y="769" textLength="26" lengthAdjust="spacingAndGlyphs">12</text>
 <text x="760.5" y="769" textLength="26" lengthAdjust="spacingAndGlyphs">13</text>
</g>

<!-- table -->
<g fill="#000">
 <rect x="201" y="808" width="2.5" height="575"/>
 <rect x="115" y="845" width="1015" height="2"/>
 <rect x="115" y="882.5" width="1015" height="2"/>
 <rect x="115" y="920.5" width="1015" height="2"/>
 <rect x="115" y="958.5" width="1015" height="2"/>
 <rect x="115" y="996.5" width="1015" height="2"/>
 <rect x="115" y="1034" width="1015" height="2"/>
 <rect x="115" y="1072" width="1015" height="2"/>
 <rect x="115" y="1110" width="1015" height="2"/>
 <rect x="115" y="1148" width="1015" height="2"/>
 <rect x="115" y="1213" width="1015" height="2"/>
 <rect x="115" y="1251" width="1015" height="2"/>
 <rect x="115" y="1316.5" width="1015" height="2"/>
</g>
<rect x="115.5" y="808" width="1015" height="575" fill="none" stroke="#000" stroke-width="2.8"/>
</svg>
</body></html>
